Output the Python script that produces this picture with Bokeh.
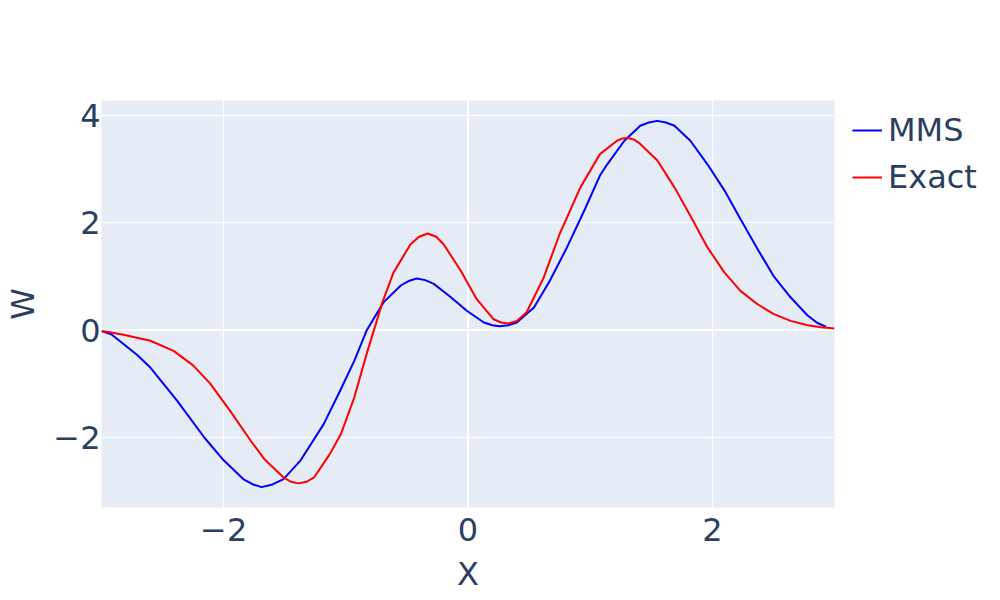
from bokeh.plotting import figure
from bokeh.models import Legend, LegendItem, Span, Range1d, FixedTicker
from bokeh.embed import file_html
from bokeh.resources import INLINE

# MMS curve
mms_x = [-3.0, -2.92, -2.82, -2.71, -2.6, -2.38, -2.16, -2.0, -1.84, -1.76, -1.69, -1.6,
         -1.51, -1.37, -1.18, -1.04, -0.93, -0.83, -0.69, -0.55, -0.48, -0.42, -0.35,
         -0.28, -0.14, -0.01, 0.13, 0.2, 0.26, 0.33, 0.4, 0.54, 0.67, 0.81, 0.95, 1.08,
         1.14, 1.28, 1.41, 1.48, 1.55, 1.62, 1.69, 1.82, 1.96, 2.1, 2.23, 2.37, 2.5,
         2.64, 2.78, 2.86, 2.93]
mms_y = [-0.02, -0.08, -0.26, -0.46, -0.7, -1.32, -2.0, -2.43, -2.78, -2.88, -2.93, -2.88,
         -2.78, -2.43, -1.75, -1.1, -0.57, -0.01, 0.52, 0.83, 0.92, 0.96, 0.93,
         0.86, 0.61, 0.36, 0.14, 0.09, 0.07, 0.09, 0.14, 0.42, 0.92, 1.54, 2.22, 2.88,
         3.09, 3.53, 3.81, 3.87, 3.9, 3.87, 3.81, 3.53, 3.09, 2.6, 2.07, 1.51, 1.01,
         0.61, 0.27, 0.13, 0.06]

# Exact curve
exact_x = [-3.0, -2.91, -2.82, -2.6, -2.41, -2.25, -2.11, -1.95, -1.78, -1.67, -1.51,
           -1.45, -1.39, -1.32, -1.26, -1.13, -1.04, -0.93, -0.83, -0.7, -0.61, -0.47,
           -0.4, -0.33, -0.26, -0.2, -0.06, 0.07, 0.21, 0.27, 0.33, 0.4, 0.48, 0.62,
           0.75, 0.92, 1.08, 1.22, 1.26, 1.31, 1.36, 1.41, 1.55, 1.69, 1.82, 1.96, 2.1,
           2.23, 2.37, 2.5, 2.64, 2.78, 2.89, 3.0]
exact_y = [-0.02, -0.05, -0.09, -0.2, -0.39, -0.66, -1.0, -1.5, -2.06, -2.4, -2.75,
           -2.83, -2.86, -2.83, -2.75, -2.31, -1.94, -1.25, -0.45, 0.52, 1.07, 1.6,
           1.74, 1.8, 1.74, 1.6, 1.11, 0.58, 0.2, 0.14, 0.12, 0.17, 0.33, 0.98,
           1.79, 2.66, 3.28, 3.53, 3.57, 3.58, 3.55, 3.47, 3.16, 2.66, 2.13, 1.54, 1.07,
           0.73, 0.48, 0.3, 0.17, 0.09, 0.05, 0.03]

series_names = ["MMS", "Exact"]
x_ticks = [-2, 0, 2]
y_ticks = [-2, 0, 2, 4]
Y_MIN, Y_MAX = -3.31, 4.28

FONT = "DejaVu Sans"
TXT = "#2a3f5f"
FS = "32px"

p = figure(frame_width=733, frame_height=407, min_border_left=101, min_border_top=100,
           min_border_bottom=80, min_border_right=10,
           x_range=Range1d(-3, 3), y_range=Range1d(Y_MIN, Y_MAX),
           output_backend="svg", toolbar_location=None)

p.background_fill_color = "#E5ECF6"
p.border_fill_color = "white"
p.outline_line_color = None

for g in (p.xgrid[0], p.ygrid[0]):
    g.grid_line_color = "white"
    g.grid_line_width = 1
p.xgrid[0].ticker = FixedTicker(ticks=x_ticks)
p.ygrid[0].ticker = FixedTicker(ticks=y_ticks)

p.add_layout(Span(location=0, dimension="height", line_color="white", line_width=2, level="underlay"))
p.add_layout(Span(location=0, dimension="width", line_color="white", line_width=2, level="underlay"))

r1 = p.line(mms_x, mms_y, line_color="#0000ff", line_width=2, line_join="round")
r2 = p.line(exact_x, exact_y, line_color="#ff0000", line_width=2, line_join="round")

for ax, ticks in ((p.xaxis[0], x_ticks), (p.yaxis[0], y_ticks)):
    ax.ticker = FixedTicker(ticks=ticks)
    ax.axis_line_color = None
    ax.major_tick_line_color = None
    ax.minor_tick_line_color = None
    ax.major_tick_out = 0
    ax.major_tick_in = 0
    ax.minor_tick_out = 0
    ax.minor_tick_in = 0
    ax.major_label_text_font = FONT
    ax.major_label_text_font_size = FS
    ax.major_label_text_color = TXT
    ax.axis_label_text_font = FONT
    ax.axis_label_text_font_size = FS
    ax.axis_label_text_color = TXT
    ax.axis_label_text_font_style = "normal"

p.xaxis[0].axis_label = "X"
p.yaxis[0].axis_label = "W"
p.xaxis[0].major_label_standoff = 10
p.yaxis[0].major_label_standoff = 1
p.xaxis[0].axis_label_standoff = 11
p.yaxis[0].axis_label_standoff = 8
p.yaxis[0].major_label_overrides = {-2: "\u22122"}
p.xaxis[0].major_label_overrides = {-2: "\u22122"}

legend = Legend(items=[LegendItem(label=series_names[0], renderers=[r1]),
                       LegendItem(label=series_names[1], renderers=[r2])],
                location=(18, 311))
legend.label_text_font = FONT
legend.label_text_font_size = FS
legend.label_text_color = TXT
legend.glyph_width = 30
legend.glyph_height = 30
legend.label_standoff = 6
legend.spacing = 9
legend.padding = 0
legend.margin = 0
legend.border_line_color = None
legend.background_fill_alpha = 0
p.add_layout(legend, "right")

open("out.html", "w").write(file_html(p, INLINE))
